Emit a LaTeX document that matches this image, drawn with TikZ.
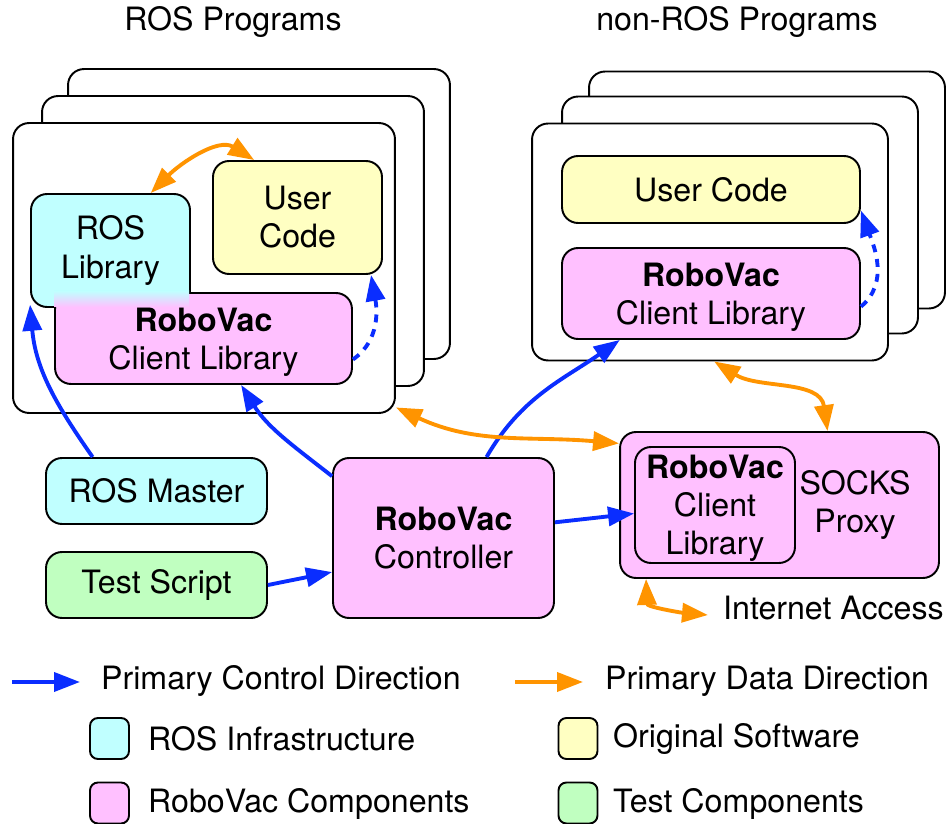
\documentclass[tikz,border=0pt]{standalone}
\usepackage{fontspec}
\setmainfont{TeX Gyre Heros}
\usetikzlibrary{arrows.meta}
\usepackage{xcolor}
\definecolor{rosbleu}{RGB}{192,255,255}
\definecolor{jaune}{RGB}{255,255,194}
\definecolor{vacrose}{RGB}{255,192,255}
\definecolor{vert}{RGB}{192,255,192}
\definecolor{bleuctrl}{RGB}{10,45,255}
\definecolor{orangedon}{RGB}{255,148,0}

\begin{document}
\begin{tikzpicture}[x=0.02cm, y=-0.02cm,
    font=\fontsize{18.3}{21.7}\selectfont,
    >={Triangle[length=0.52cm,width=0.38cm]},
    boite/.style={draw, line width=1.1pt, rounded corners=0.32cm, align=center},
    pileg/.style={boite, fill=white, minimum width=7.64cm, minimum height=5.8cm},
    piled/.style={boite, fill=white, minimum width=7.12cm, minimum height=4.74cm},
    pastille/.style={boite, rounded corners=0.16cm, minimum width=0.78cm, minimum height=0.82cm},
    controle/.style={draw=bleuctrl, line width=2.2pt, ->},
    pointille/.style={controle, dash pattern=on 4.5pt off 4pt},
    donnees/.style={draw=orangedon, line width=2.2pt, <->}]

    % Cadre de l'image
    \useasboundingbox (0,0) rectangle (948,824);

    % Titres des deux groupes
    \node (titreros) at (233,22) {ROS Programs};
    \node (titrenonros) at (737,22) {non-ROS Programs};

    % Pile des programmes ROS (de l'arrière vers l'avant)
    \node[pileg] (pileg3) at (259,214) {};
    \node[pileg] (pileg2) at (233,241) {};
    \node[pileg] (pileg1) at (204,268) {};

    % Pile des programmes non-ROS
    \node[piled] (piled3) at (767,190) {};
    \node[piled] (piled2) at (740,215) {};
    \node[piled] (piled1) at (710,242) {};

    % Contenu du programme ROS
    \node[boite, fill=rosbleu, minimum width=3.18cm, minimum height=2.26cm] (roslib) at (110.5,250.5) {ROS\\Library};
    \node[boite, fill=vacrose, minimum width=5.94cm, minimum height=1.82cm, text depth=0pt] (clientg) at (203.5,338.5) {\textbf{RoboVac}\\Client Library};
    \shade[top color=rosbleu, bottom color=vacrose] (54,291) rectangle (189,307); % fondu entre les deux boîtes
    \node[boite, fill=jaune, minimum width=3.38cm, minimum height=2.26cm] (codeg) at (297.5,217.5) {User\\Code};

    % Contenu du programme non-ROS
    \node[boite, fill=jaune, minimum width=5.96cm, minimum height=1.34cm] (coded) at (711,189.5) {User Code};
    \node[boite, fill=vacrose, minimum width=5.96cm, minimum height=1.82cm, text depth=0pt] (clientd) at (711,293.5) {\textbf{RoboVac}\\Client Library};

    % Composants du bas
    \node[boite, fill=rosbleu, minimum width=4.42cm, minimum height=1.32cm] (master) at (156.5,491) {ROS Master};
    \node[boite, fill=vert, minimum width=4.42cm, minimum height=1.32cm] (script) at (156.5,585) {Test Script};
    \node[boite, fill=vacrose, minimum width=4.42cm, minimum height=3.2cm] (ctrl) at (443.5,538) {\textbf{RoboVac}\\Controller};
    \node[boite, fill=vacrose, minimum width=6.38cm, minimum height=2.92cm] (socks) at (779.5,505) {};
    \node[boite, fill=vacrose, minimum width=3.2cm, minimum height=2.32cm, text depth=0pt] (clients) at (715,505) {\textbf{RoboVac}\\Client\\Library};
    \node[align=center] (proxy) at (855,505) {SOCKS\\Proxy};
    \coordinate (internet) at (708,615);
    \node[anchor=west] (acces) at (717,608) {Internet Access};

    % --- Flèches de contrôle ---
    \draw[controle] (master.152) to[out=125,in=-85] (roslib.214);
    \draw[controle] (ctrl.151) to[out=142,in=-58] (clientg.-51);
    \draw[controle] (ctrl.62) to[out=60,in=215] (clientd.207);
    \draw[controle] (script.east) -- (ctrl.197);
    \draw[controle] (ctrl.8) -- (clients.186);
    \draw[pointille] (clientg.-8) to[out=35,in=-80] (codeg.-38);
    \draw[pointille] (clientd.-5) to[out=40,in=-70] (coded.-8);

    % --- Flèches de données ---
    \draw[donnees] (roslib.55) to[out=45,in=148] (codeg.127);
    \draw[donnees] (pileg1.-36) to[out=-25,in=175] (socks.159);
    \draw[donnees] (piled1.-88) to[out=-32,in=98] (socks.57);
    \draw[donnees] (socks.209) to[out=-88,in=175] (internet);

    % --- Légende ---
    \coordinate (lgb1) at (12,682);
    \coordinate (lgb2) at (80,682);
    \draw[controle] (lgb1) -- (lgb2);
    \node[anchor=west] (lgctrl) at (95,681) {Primary Control Direction};
    \coordinate (lgo1) at (515,682);
    \coordinate (lgo2) at (583,682);
    \draw[donnees, -{Triangle[length=0.52cm,width=0.38cm]}] (lgo1) -- (lgo2);
    \node[anchor=west] (lgdon) at (599,681) {Primary Data Direction};

    \node[pastille, fill=rosbleu] (lgros) at (109.5,738.5) {};
    \node[anchor=west] (lgrostxt) at (142,739) {ROS Infrastructure};
    \node[pastille, fill=jaune] (lgorig) at (578,738.5) {};
    \node[anchor=west] (lgorigtxt) at (607,739) {Original Software};
    \node[pastille, fill=vacrose] (lgvac) at (109.5,803) {};
    \node[anchor=west] (lgvactxt) at (142,804) {RoboVac Components};
    \node[pastille, fill=vert] (lgtest) at (578,803) {};
    \node[anchor=west] (lgtesttxt) at (607,804) {Test Components};

\end{tikzpicture}
\end{document}
